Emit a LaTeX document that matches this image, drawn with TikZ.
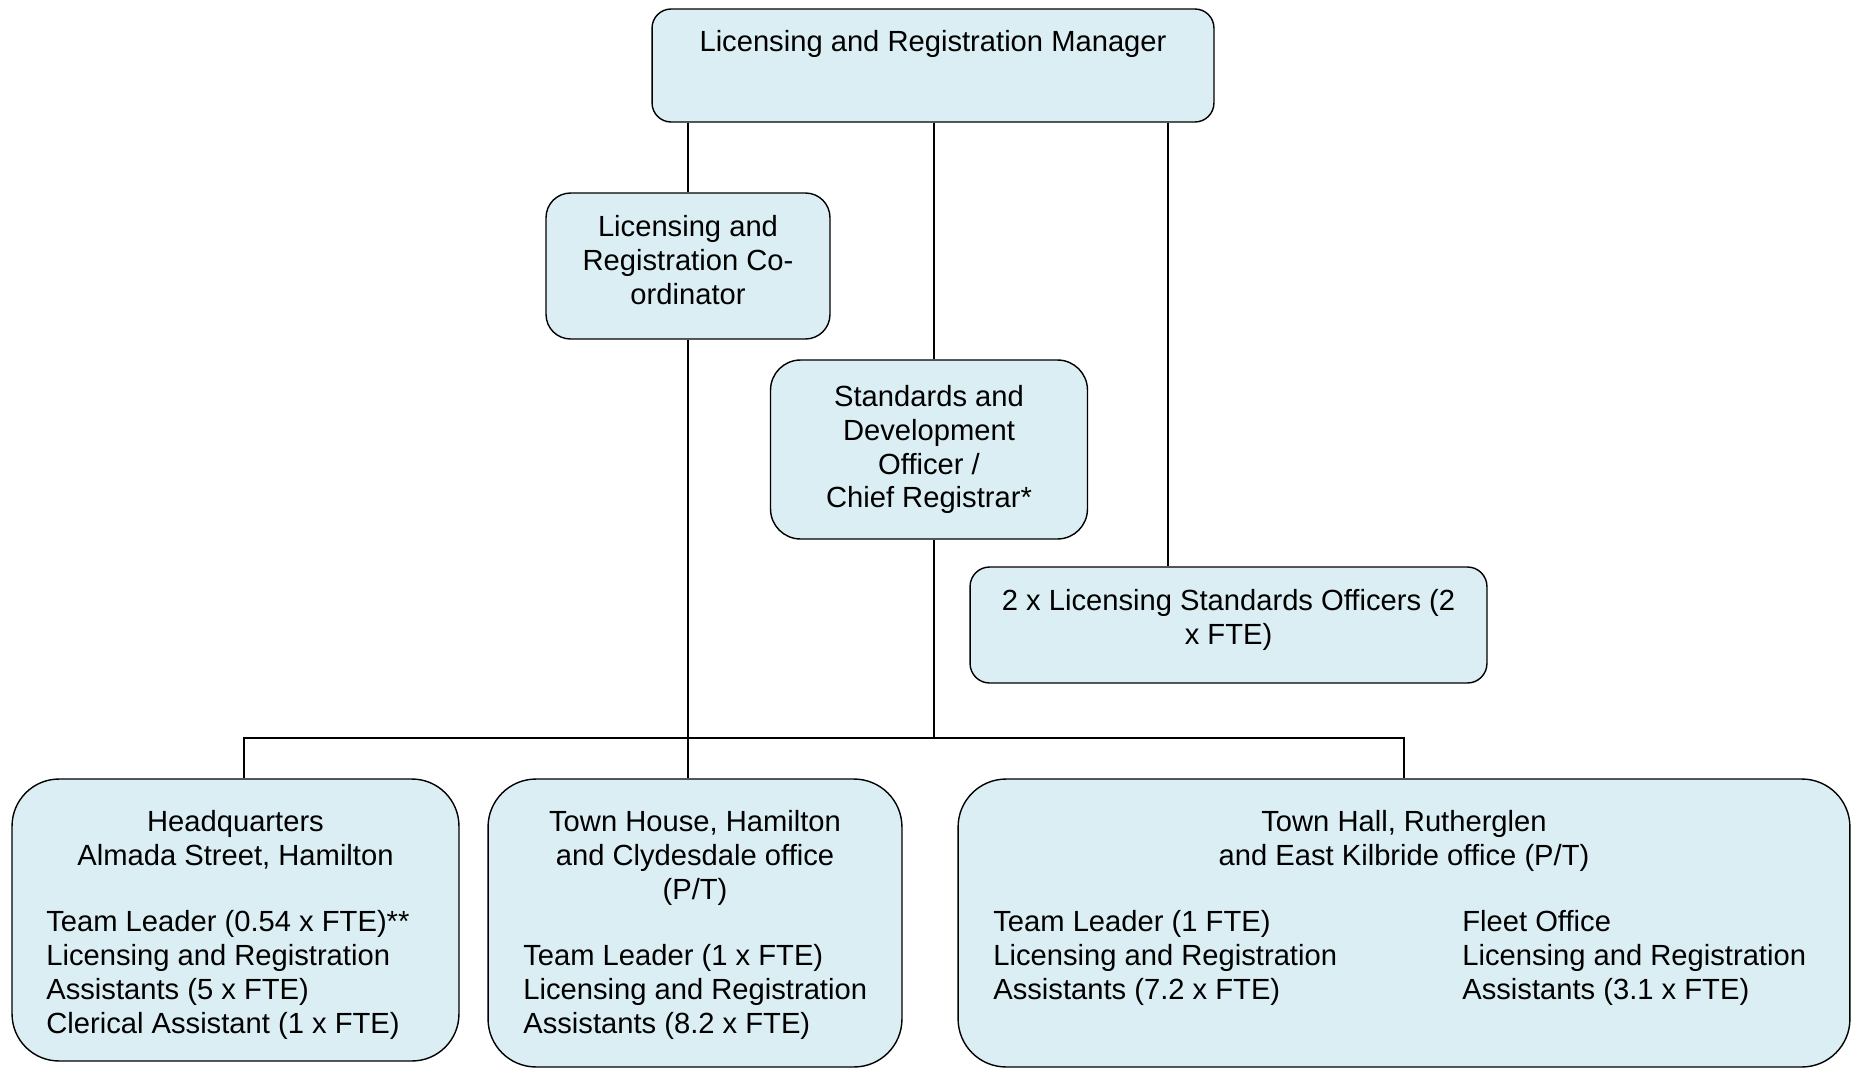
\documentclass[tikz,border=0pt]{standalone}
\usepackage{fontspec}
\setmainfont{Liberation Sans}
\usetikzlibrary{positioning}
\definecolor{boxfill}{HTML}{DAEEF3}
\tikzstyle{post} = [draw, line width=0.8pt, fill=boxfill, rectangle, inner sep=0pt]
\tikzstyle{txt} = [inner sep=0pt, font=\fontsize{16.6pt}{19.3pt}\selectfont]
\tikzstyle{link} = [draw, line width=0.8pt]

\begin{document}
\begin{tikzpicture}[x=0.02cm, y=-0.02cm]
    \useasboundingbox (0,0) rectangle (1852,1068);
    % managers and officers
    \node[post, rounded corners=0.38cm, minimum width=11.24cm, minimum height=2.26cm] (mgr) at (933,65.5) {};
    \node[txt, anchor=north] (mgrtxt) at (933,30.5) {Licensing and Registration Manager};
    \node[post, txt, rounded corners=0.49cm, minimum width=5.68cm, minimum height=2.92cm, align=center, text depth=7pt] (coord) at (688,266) {Licensing and\\Registration Co-\\ordinator};
    \node[post, txt, rounded corners=0.6cm, minimum width=6.34cm, minimum height=3.58cm, align=center] (std) at (929,449.5) {Standards and\\Development\\Officer /\\Chief Registrar*};
    \node[post, txt, rounded corners=0.39cm, minimum width=10.34cm, minimum height=2.32cm, align=center, text depth=9pt] (lso) at (1228.5,625) {2 x Licensing Standards Officers (2\\x FTE)};
    % offices
    \node[post, rounded corners=0.94cm, minimum width=8.94cm, minimum height=5.64cm] (hq) at (235.5,920) {};
    \node[post, rounded corners=0.96cm, minimum width=8.28cm, minimum height=5.76cm] (th) at (695,923) {};
    \node[post, rounded corners=0.96cm, minimum width=17.84cm, minimum height=5.76cm] (hall) at (1404,923) {};
    \node[txt, anchor=north, align=center] (hqhead) at (235.5,810) {Headquarters\\Almada Street, Hamilton};
    \node[txt, anchor=north west, align=left] (hqbody) at (46,910) {Team Leader (0.54 x FTE)**\\Licensing and Registration\\Assistants (5 x FTE)\\Clerical Assistant (1 x FTE)};
    \node[txt, anchor=north, align=center] (thhead) at (695,810) {Town House, Hamilton\\and Clydesdale office\\(P/T)};
    \node[txt, anchor=north west, align=left] (thbody) at (523,944) {Team Leader (1 x FTE)\\Licensing and Registration\\Assistants (8.2 x FTE)};
    \node[txt, anchor=north, align=center] (hallhead) at (1404,810) {Town Hall, Rutherglen\\and East Kilbride office (P/T)};
    \node[txt, anchor=north west, align=left] (hallleft) at (993,910) {Team Leader (1 FTE)\\Licensing and Registration\\Assistants (7.2 x FTE)};
    \node[txt, anchor=north west, align=left] (hallright) at (1462,910) {Fleet Office\\Licensing and Registration\\Assistants (3.1 x FTE)};
    % lines
    \coordinate (bus) at (0,738);
    \coordinate (lsotap) at ([xshift=-1.21cm]lso.north);
    \coordinate (stdtop) at ([xshift=0.1cm]std.north);
    \coordinate (stdbot) at ([xshift=0.1cm]std.south);
    \draw[link] (mgr.south -| coord.north) -- (coord.north);
    \draw[link] (mgr.south -| stdtop) -- (stdtop);
    \draw[link] (mgr.south -| lsotap) -- (lsotap);
    \draw[link] (coord.south) -- (coord.south |- th.north);
    \draw[link] (stdbot) -- (stdbot |- bus);
    \draw[link] ([xshift=0.17cm]hq.north) |- (bus -| hall.north) -- (hall.north);
\end{tikzpicture}
\end{document}
